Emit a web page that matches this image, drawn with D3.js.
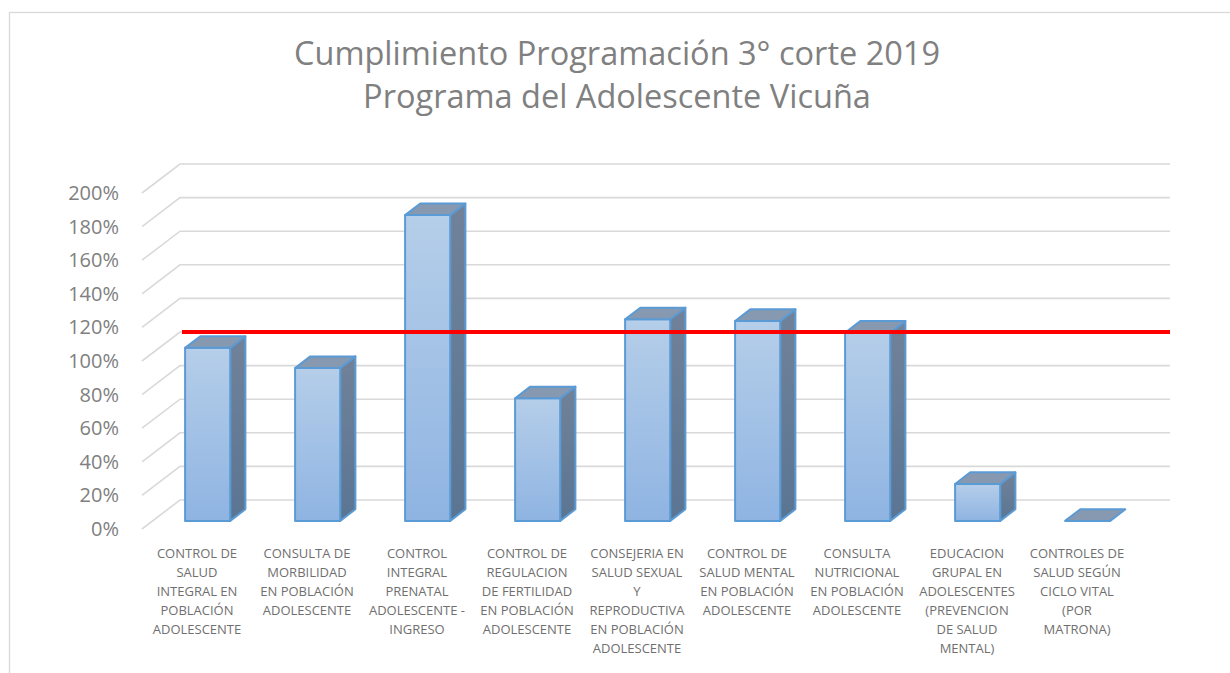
<!DOCTYPE html>
<html>
<head>
<meta charset="utf-8">
<script src="https://cdn.jsdelivr.net/npm/d3@7"></script>
<style>
  html, body { margin: 0; padding: 0; background: #fff; }
  svg { display: block; }
</style>
</head>
<body>
<div class="content"></div>
<script>
var titleLines = ['Cumplimiento Programación 3° corte 2019', 'Programa del Adolescente Vicuña'];

var categories = [
    'CONTROL DE SALUD INTEGRAL EN POBLACIÓN ADOLESCENTE',
    'CONSULTA DE MORBILIDAD EN POBLACIÓN ADOLESCENTE',
    'CONTROL INTEGRAL PRENATAL ADOLESCENTE - INGRESO',
    'CONTROL DE REGULACION DE FERTILIDAD EN POBLACIÓN ADOLESCENTE',
    'CONSEJERIA EN SALUD SEXUAL Y REPRODUCTIVA EN POBLACIÓN ADOLESCENTE',
    'CONTROL DE SALUD MENTAL EN POBLACIÓN ADOLESCENTE',
    'CONSULTA NUTRICIONAL EN POBLACIÓN ADOLESCENTE',
    'EDUCACION GRUPAL EN ADOLESCENTES (PREVENCION DE SALUD MENTAL)',
    'CONTROLES DE SALUD SEGÚN CICLO VITAL (POR MATRONA)'
];

// wrapped the same way as the picture
var categoryLines = [
    ['CONTROL DE', 'SALUD', 'INTEGRAL EN', 'POBLACIÓN', 'ADOLESCENTE'],
    ['CONSULTA DE', 'MORBILIDAD', 'EN POBLACIÓN', 'ADOLESCENTE'],
    ['CONTROL', 'INTEGRAL', 'PRENATAL', 'ADOLESCENTE -', 'INGRESO'],
    ['CONTROL DE', 'REGULACION', 'DE FERTILIDAD', 'EN POBLACIÓN', 'ADOLESCENTE'],
    ['CONSEJERIA EN', 'SALUD SEXUAL', 'Y', 'REPRODUCTIVA', 'EN POBLACIÓN', 'ADOLESCENTE'],
    ['CONTROL DE', 'SALUD MENTAL', 'EN POBLACIÓN', 'ADOLESCENTE'],
    ['CONSULTA', 'NUTRICIONAL', 'EN POBLACIÓN', 'ADOLESCENTE'],
    ['EDUCACION', 'GRUPAL EN', 'ADOLESCENTES', '(PREVENCION', 'DE SALUD', 'MENTAL)'],
    ['CONTROLES DE', 'SALUD SEGÚN', 'CICLO VITAL', '(POR', 'MATRONA)']
];

var cumplimiento = [1.03, 0.91, 1.82, 0.73, 1.20, 1.19, 1.12, 0.22, 0];
var meta = 1.0;
var yTicks = [0, 0.2, 0.4, 0.6, 0.8, 1.0, 1.2, 1.4, 1.6, 1.8, 2.0];

var W = 1230, H = 673;
var depth = { dx: 38, dy: -29 };   // floor depth offset (front -> back wall)
var barFront = 0.28, barBack = 0.68;

var svg = d3.select('.content').append('svg')
    .attr('width', W)
    .attr('height', H);

var defs = svg.append('defs');
var gFront = defs.append('linearGradient').attr('id', 'gFront')
    .attr('x1', 0).attr('y1', 0).attr('x2', 0).attr('y2', 1);
gFront.append('stop').attr('offset', '0%').attr('stop-color', '#b5cee9');
gFront.append('stop').attr('offset', '100%').attr('stop-color', '#8fb4e2');
var gSide = defs.append('linearGradient').attr('id', 'gSide')
    .attr('x1', 0).attr('y1', 0).attr('x2', 0).attr('y2', 1);
gSide.append('stop').attr('offset', '0%').attr('stop-color', '#718299');
gSide.append('stop').attr('offset', '100%').attr('stop-color', '#5a7593');

// chart frame
svg.append('rect')
    .attr('x', 9.5).attr('y', 12.5)
    .attr('width', 1260).attr('height', 720)
    .style('fill', '#fff')
    .style('stroke', '#d9d9d9')
    .style('stroke-width', 1.3);

// title
svg.append('text')
    .attr('x', 617)
    .attr('y', 65)
    .attr('text-anchor', 'middle')
    .style('font-family', '"Open Sans", sans-serif')
    .style('font-size', '32.5px')
    .style('fill', '#808080')
    .selectAll('tspan')
    .data(titleLines)
    .enter().append('tspan')
    .attr('x', 617)
    .attr('dy', function(d, i) { return i === 0 ? 0 : 43; })
    .text(function(d) { return d; });

var x = d3.scaleBand()
    .domain(categories)
    .range([142, 1132])
    .paddingInner(0.59)
    .paddingOuter(0.295);
var y = d3.scaleLinear().domain([0, 2]).range([529, 193]);

function proj(px, py, f) {
    return [px + f * depth.dx, py + f * depth.dy];
}

// gridlines: diagonal on the floor side + back wall line
var grid = svg.append('g');
yTicks.forEach(function(t) {
    var p0 = proj(142, y(t), 0);
    var p1 = proj(142, y(t), 1);
    var p2 = proj(1132, y(t), 1);
    grid.append('path')
        .attr('d', d3.line()([p0, p1, p2]))
        .style('fill', 'none')
        .style('stroke', '#d9d9d9')
        .style('stroke-width', 1.6);
});

// y labels
svg.append('g').selectAll('text')
    .data(yTicks)
    .enter().append('text')
    .attr('x', 119)
    .attr('y', function(d) { return y(d); })
    .attr('dy', '0.35em')
    .attr('text-anchor', 'end')
    .style('font-family', '"Open Sans", sans-serif')
    .style('font-size', '20px')
    .style('fill', '#808080')
    .text(d3.format('.0%'));

// bars
var bars = svg.append('g').selectAll('g')
    .data(cumplimiento)
    .enter().append('g');

function facePts(i, v) {
    var x0 = x(categories[i]), x1 = x0 + x.bandwidth();
    var yt = y(v), yb = y(0);
    return {
        front: [proj(x0, yt, barFront), proj(x1, yt, barFront), proj(x1, yb, barFront), proj(x0, yb, barFront)],
        side: [proj(x1, yt, barFront), proj(x1, yt, barBack), proj(x1, yb, barBack), proj(x1, yb, barFront)],
        top: [proj(x0, yt, barFront), proj(x1, yt, barFront), proj(x1, yt, barBack), proj(x0, yt, barBack)]
    };
}
var poly = d3.line().curve(d3.curveLinearClosed);

bars.each(function(d, i) {
    var g = d3.select(this);
    var f = facePts(i, d);
    if (d > 0) {
        g.append('path').attr('d', poly(f.side))
            .style('fill', 'url(#gSide)');
        g.append('path').attr('d', poly(f.front))
            .style('fill', 'url(#gFront)');
    }
    g.append('path').attr('d', poly(f.top))
        .style('fill', '#8699b1');
    // outline
    g.selectAll('path')
        .style('stroke', '#5b9bd5')
        .style('stroke-width', 2)
        .style('stroke-linejoin', 'round');
});

// target line (100%) on back wall
var r0 = proj(142, y(meta), 1), r1 = proj(1132, y(meta), 1);
svg.append('line')
    .attr('x1', r0[0] + 2).attr('y1', r0[1])
    .attr('x2', r1[0]).attr('y2', r1[1])
    .style('stroke', '#ff0000')
    .style('stroke-width', 4);

// category labels
svg.append('g').selectAll('text')
    .data(categoryLines)
    .enter().append('text')
    .attr('text-anchor', 'middle')
    .style('font-family', '"Open Sans", sans-serif')
    .style('font-size', '13px')
    .style('fill', '#6f6f6f')
    .each(function(lines, i) {
        var cx = x(categories[i]) - x.step() * x.paddingInner() / 2 + x.step() / 2;
        d3.select(this).selectAll('tspan')
            .data(lines)
            .enter().append('tspan')
            .attr('x', cx)
            .attr('y', function(l, j) { return 558 + j * 19; })
            .text(function(l) { return l; });
    });
</script>
</body>
</html>
